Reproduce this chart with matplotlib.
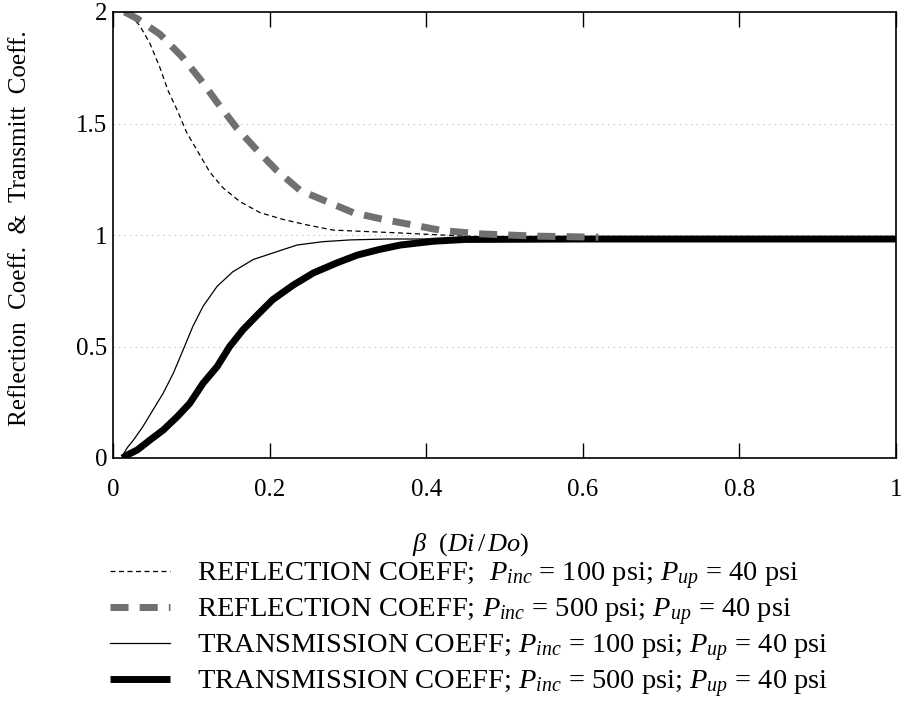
import numpy as np
import matplotlib
matplotlib.use('Agg')
import matplotlib.pyplot as plt
from matplotlib.lines import Line2D

plt.rcParams['font.family'] = ['Liberation Serif', 'DejaVu Serif']
plt.rcParams['mathtext.fontset'] = 'custom'
plt.rcParams['mathtext.rm'] = 'Liberation Serif'
plt.rcParams['mathtext.it'] = 'Liberation Serif:italic'

# beta = Di/Do and coefficients, P_up = 40 psi
beta_r100 = [0.012, 0.019, 0.034, 0.047, 0.060, 0.070, 0.082, 0.094, 0.109, 0.124, 0.141,
             0.162, 0.188, 0.217, 0.248, 0.281, 0.367, 0.42, 0.5, 0.6, 0.8, 1.0]
refl_100 = [2.0, 1.995, 1.94, 1.86, 1.75, 1.65, 1.56, 1.46, 1.37, 1.28, 1.21,
            1.15, 1.10, 1.07, 1.045, 1.022, 1.009, 1.0, 0.988, 0.983, 0.982, 0.982]

beta_r500 = [0.015, 0.031, 0.060, 0.088, 0.111, 0.134, 0.158, 0.184, 0.209, 0.239, 0.273,
             0.307, 0.345, 0.383, 0.42, 0.47, 0.54, 0.62]
refl_500 = [2.0, 1.97, 1.90, 1.80, 1.70, 1.59, 1.48, 1.38, 1.29, 1.20, 1.15,
            1.10, 1.07, 1.045, 1.02, 1.005, 0.995, 0.99]

beta_t100 = [0.012, 0.018, 0.026, 0.038, 0.051, 0.064, 0.077, 0.089, 0.102, 0.115, 0.133,
             0.153, 0.179, 0.209, 0.235, 0.268, 0.303, 0.35, 0.45, 0.6, 0.8, 1.0]
trans_100 = [0.01, 0.045, 0.08, 0.14, 0.215, 0.29, 0.38, 0.48, 0.59, 0.68, 0.77,
             0.835, 0.89, 0.925, 0.955, 0.97, 0.978, 0.982, 0.982, 0.982, 0.982, 0.982]

beta_t500 = [0.012, 0.018, 0.031, 0.047, 0.064, 0.082, 0.098, 0.115, 0.133, 0.149, 0.166,
             0.184, 0.204, 0.230, 0.256, 0.286, 0.312, 0.34, 0.367, 0.409, 0.45, 0.6, 0.8, 1.0]
trans_500 = [0.0, 0.013, 0.036, 0.08, 0.125, 0.185, 0.245, 0.335, 0.41, 0.50, 0.575,
             0.64, 0.71, 0.775, 0.83, 0.875, 0.91, 0.935, 0.955, 0.972, 0.98, 0.982, 0.982, 0.982]

labels = [
    r'REFLECTION COEFF;  $P_{inc}$ = 100 psi; $P_{up}$ = 40 psi',
    r'REFLECTION COEFF; $P_{inc}$ = 500 psi; $P_{up}$ = 40 psi',
    r'TRANSMISSION COEFF; $P_{inc}$ = 100 psi; $P_{up}$ = 40 psi',
    r'TRANSMISSION COEFF; $P_{inc}$ = 500 psi; $P_{up}$ = 40 psi',
]

fig = plt.figure(figsize=(9.02, 7.11), dpi=100)
ax = fig.add_axes([113/902, 1 - 458/711, 783/902, 446/711])

styles = [
    dict(color='black', lw=0.9, dashes=(4.0, 2.8)),
    dict(color='#707070', lw=5.0, dashes=(2.6, 1.6)),
    dict(color='black', lw=0.9),
    dict(color='black', lw=5.0, solid_capstyle='butt'),
]

ax.plot(beta_t500, trans_500, **styles[3])
ax.plot(beta_t100, trans_100, **styles[2])
ax.plot(beta_r100, refl_100, **styles[0])
ax.plot(beta_r500, refl_500, **styles[1])

ax.set_xlim(0, 1)
ax.set_ylim(0, 2)
ax.set_xticks([0, 0.2, 0.4, 0.6, 0.8, 1])
ax.set_xticklabels(['0', '0.2', '0.4', '0.6', '0.8', '1'])
ax.set_yticks([0, 0.5, 1, 1.5, 2])
ax.set_yticklabels(['0', '0.5', '1', '1.5', '2'])
ax.tick_params(axis='x', direction='in', length=11, width=1, top=True, labelsize=18, pad=15)
ax.tick_params(axis='y', length=0, labelsize=18, pad=4)
ax.grid(axis='y', color='#b0b0b0', linestyle=(0, (1, 4)), lw=0.8)
for s in ax.spines.values():
    s.set_linewidth(1.2)

ax.set_xlabel(r'$\beta$  $(Di\,/\,Do)$', fontsize=19)
ax.xaxis.set_label_coords(0.457, -0.163)
ax.set_ylabel('Reflection  Coeff.  &  Transmitt  Coeff.', fontsize=18)
ax.yaxis.set_label_coords(-0.105, 0.516)

# legend drawn below the axes: sample line centred on the caps, text on its baseline
line_y = [571, 607, 643, 679]
for y, st, lab in zip(line_y, styles, labels):
    yf = 1 - y / 711
    fig.add_artist(Line2D([110/902, 170/902], [yf, yf], transform=fig.transFigure, **st))
    fig.text(197/902, 1 - (y + 10) / 711, lab, fontsize=20.5, va='baseline', ha='left')

fig.savefig('out.png', dpi=100)
